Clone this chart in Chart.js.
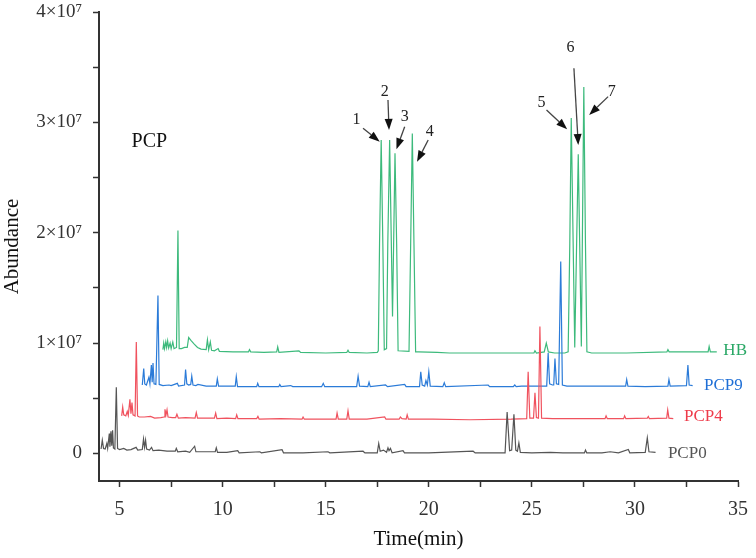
<!DOCTYPE html>
<html>
<head>
<meta charset="utf-8">
<title>PCP chromatogram</title>
<script src="https://cdn.jsdelivr.net/npm/chart.js@4.4.0/dist/chart.umd.min.js"></script>
<style>
  html, body { margin: 0; padding: 0; background: #fff; }
  #wrap { width: 756px; height: 558px; }
</style>
</head>
<body>
<div id="wrap"><canvas id="chromChart" width="756" height="558"></canvas></div>
<script>
const seriesNames = ['PCP0', 'PCP4', 'PCP9', 'HB'];

const pcp0Time  = [4.10,4.16,4.22,4.30,4.38,4.42,4.50,4.53,4.58,4.62,4.66,4.70,4.77,4.84,4.90,5.00,5.20,5.35,5.55,5.80,5.88,6.10,6.16,6.21,6.26,6.31,6.45,6.55,6.62,6.90,7.30,7.70,7.75,7.82,8.20,8.40,8.64,8.70,9.10,9.64,9.69,9.75,10.20,10.73,10.80,11.80,11.88,12.88,12.95,13.90,15.11,15.20,16.81,16.90,17.50,17.57,17.64,17.80,17.95,18.02,18.07,18.14,18.22,18.75,18.82,20.00,22.15,22.25,23.70,23.80,23.92,24.02,24.13,24.22,24.30,24.37,24.44,25.00,25.90,26.50,27.55,27.60,27.66,28.40,28.80,29.20,29.68,29.75,30.50,30.60,30.68,31.00];
const pcp0Abund = [0.40,1.20,0.45,0.40,0.90,0.45,1.80,0.60,2.00,0.70,2.10,0.50,0.40,6.00,0.45,0.35,0.45,0.30,0.35,0.55,0.30,0.35,1.30,0.55,1.20,0.40,0.30,0.55,0.25,0.30,0.20,0.20,0.45,0.15,0.20,0.10,0.65,0.15,0.15,0.15,0.50,0.10,0.10,0.25,0.05,0.15,0.05,0.35,0.05,0.05,0.15,0.05,0.20,0.05,0.05,0.90,0.20,0.30,0.10,0.50,0.25,0.45,0.05,0.25,0.05,0.05,0.20,0.05,0.05,3.75,0.25,0.30,3.55,0.30,0.20,0.95,0.10,0.05,0.10,0.05,0.05,0.30,0.05,0.05,0.15,0.05,0.35,0.05,0.10,1.40,0.15,0.10];

const pcp4Time  = [5.10,5.15,5.20,5.30,5.37,5.42,5.50,5.55,5.60,5.65,5.75,5.81,5.87,5.95,6.20,6.50,6.70,7.00,7.16,7.20,7.25,7.30,7.35,7.55,7.72,7.78,7.85,8.20,8.66,8.72,8.78,9.20,9.60,9.66,9.72,10.20,10.63,10.68,10.74,11.65,11.71,11.77,12.80,13.85,13.90,13.96,15.00,15.50,15.55,15.61,16.02,16.08,16.14,17.00,17.86,17.92,18.56,18.62,18.70,18.90,18.95,19.01,20.20,22.00,24.00,24.75,24.82,24.90,25.08,25.15,25.22,25.32,25.39,25.47,26.00,27.50,28.55,28.60,28.66,29.45,29.50,29.56,30.60,30.65,30.70,31.54,31.59,31.65,31.86];
const pcp4Abund = [3.40,4.20,3.50,3.40,3.80,3.45,4.90,3.60,4.60,3.50,3.40,10.10,3.40,3.30,3.30,3.35,3.20,3.25,3.30,4.00,3.50,3.95,3.30,3.25,3.25,3.55,3.20,3.25,3.20,3.70,3.20,3.20,3.20,3.65,3.15,3.20,3.15,3.50,3.15,3.15,3.35,3.10,3.15,3.10,3.30,3.10,3.10,3.10,3.65,3.10,3.10,3.85,3.10,3.10,3.30,3.10,3.10,3.30,3.15,3.10,3.50,3.10,3.10,3.05,3.10,3.15,7.40,3.20,3.20,5.50,3.25,3.20,11.50,3.20,3.15,3.15,3.15,3.40,3.15,3.15,3.40,3.15,3.20,3.35,3.15,3.20,3.95,3.20,3.15];

const pcp9Time  = [6.10,6.17,6.22,6.30,6.42,6.47,6.54,6.58,6.62,6.67,6.76,6.86,6.92,7.10,7.40,7.50,7.80,7.86,8.15,8.20,8.26,8.35,8.45,8.50,8.56,8.70,8.80,9.20,9.69,9.74,9.80,10.20,10.61,10.66,10.72,11.65,11.70,11.76,12.72,12.77,12.83,13.30,13.40,14.80,14.88,14.95,16.50,16.57,16.64,17.04,17.10,17.16,17.90,18.00,18.83,18.90,19.55,19.61,19.68,19.80,19.86,19.93,20.00,20.07,20.68,20.75,20.82,22.88,22.95,24.10,24.17,24.24,24.50,25.72,25.79,25.86,26.00,26.06,26.12,26.19,26.30,26.40,26.48,26.70,28.00,29.55,29.60,29.66,30.50,31.60,31.65,31.71,32.50,32.57,32.63,32.80];
const pcp9Abund = [6.20,7.70,6.30,6.20,6.90,6.30,8.00,6.45,8.20,6.30,6.25,14.30,6.25,6.15,6.20,6.15,6.35,6.10,6.20,7.60,6.30,6.20,6.25,7.00,6.20,6.15,6.25,6.10,6.10,6.75,6.10,6.10,6.10,6.95,6.05,6.05,6.35,6.05,6.05,6.25,6.05,6.15,6.05,6.05,6.35,6.05,6.05,7.00,6.10,6.05,6.45,6.05,6.20,6.05,6.25,6.05,6.05,7.40,6.20,6.10,6.60,6.20,7.40,6.10,6.05,6.40,6.05,6.20,6.05,6.05,6.20,6.05,6.10,6.10,9.10,6.30,6.20,6.20,8.60,6.30,6.25,17.40,6.20,6.10,6.10,6.10,6.70,6.10,6.05,6.10,6.70,6.10,6.15,8.00,6.20,6.15];

const hbTime  = [7.10,7.14,7.18,7.24,7.28,7.33,7.38,7.45,7.50,7.58,7.64,7.76,7.83,7.89,8.00,8.15,8.28,8.35,8.48,8.62,8.78,8.95,9.20,9.26,9.32,9.40,9.46,9.60,9.78,9.84,10.50,11.25,11.30,11.36,12.00,12.62,12.67,12.73,13.70,13.78,15.00,16.02,16.08,16.14,17.00,17.50,17.55,17.61,17.69,17.77,17.84,17.95,18.01,18.10,18.24,18.36,18.44,18.51,19.04,19.12,19.20,19.28,19.36,19.50,20.40,21.00,22.80,24.00,25.10,25.15,25.22,25.60,25.70,25.80,26.10,26.60,26.76,26.84,26.91,27.08,27.25,27.40,27.52,27.60,27.67,27.90,29.60,31.55,31.60,31.66,33.55,33.60,33.66,33.97];
const hbAbund = [9.40,10.00,9.50,10.10,9.60,10.20,9.55,10.00,9.50,10.10,9.50,9.60,20.20,9.50,9.50,9.60,9.60,10.50,10.20,9.90,9.60,9.45,9.40,10.30,9.40,10.10,9.35,9.30,9.50,9.25,9.20,9.20,9.40,9.20,9.15,9.20,9.65,9.15,9.30,9.15,9.10,9.15,9.35,9.15,9.10,9.15,9.30,19.00,28.40,19.00,9.40,9.50,19.00,28.40,12.40,27.20,19.00,9.30,9.25,19.00,29.00,19.00,9.20,9.20,9.15,9.10,9.10,9.10,9.10,9.30,9.10,9.20,10.00,9.20,9.10,9.10,9.20,19.00,30.40,9.60,27.10,9.70,33.20,19.00,9.20,9.10,9.10,9.20,9.40,9.20,9.20,9.70,9.20,9.20];

// Marcas dos eixos
const xTicks = [5, 7.5, 10, 12.5, 15, 17.5, 20, 22.5, 25, 27.5, 30, 32.5, 35];
const yTicks = [0, 5, 10, 15, 20, 25, 30, 35, 40];

// Cores e posições das anotações (em coordenadas de dados)
const lineColors  = ['#555555', '#f0525e', '#2b7bd8', '#3dba7c'];
const labelColors = ['#555555', '#ee3b4a', '#1f6fd6', '#2aa866'];
const labelAt = [[31.60, 0.03], [32.38, 3.32], [33.35, 6.19], [34.29, 9.30]];
const peakTags = ['1', '2', '3', '4', '5', '6', '7'];
const tagAt  = [[16.49, 30.22], [17.86, 32.78], [18.83, 30.52], [20.05, 29.16], [25.47, 31.73], [26.88, 36.72], [28.88, 32.78]];
const tailAt = [[16.81, 29.47], [18.02, 32.03], [18.83, 29.61], [19.97, 28.40], [25.71, 31.12], [27.04, 34.90], [28.70, 32.33]];
const tipAt  = [[17.62, 28.25], [18.07, 29.31], [18.43, 27.56], [19.43, 26.44], [26.71, 29.37], [27.25, 27.95], [27.78, 30.67]];

const serif = '"Liberation Serif", "DejaVu Serif", serif';

const toPoints = (t, a) => t.map((x, i) => ({ x: x, y: a[i] }));
const allTimes = [pcp0Time, pcp4Time, pcp9Time, hbTime];
const allAbund = [pcp0Abund, pcp4Abund, pcp9Abund, hbAbund];

// Setas, números dos picos e rótulos das séries
const notesPlugin = {
  id: 'notes',
  afterDatasetsDraw(chart) {
    const { ctx, scales: { x, y } } = chart;
    const px = p => [x.getPixelForValue(p[0]), y.getPixelForValue(p[1])];
    ctx.save();

    // rótulos das séries
    ctx.font = '17px ' + serif;
    ctx.textAlign = 'left';
    ctx.textBaseline = 'middle';
    seriesNames.forEach((name, i) => {
      const [lx, ly] = px(labelAt[i]);
      ctx.fillStyle = labelColors[i];
      ctx.fillText(name, lx, ly);
    });

    // texto "PCP"
    ctx.fillStyle = '#111';
    ctx.font = '20px ' + serif;
    const [tx, ty] = px([5.58, 28.22]);
    ctx.fillText('PCP', tx, ty);

    // setas
    ctx.font = '16px ' + serif;
    ctx.textAlign = 'center';
    peakTags.forEach((tag, i) => {
      const [nx, ny] = px(tagAt[i]);
      const [ax, ay] = px(tailAt[i]);
      const [bx, by] = px(tipAt[i]);
      ctx.fillStyle = '#222';
      ctx.fillText(tag, nx, ny);

      const ang = Math.atan2(by - ay, bx - ax);
      const len = 11, half = 4;
      const hx = bx - len * Math.cos(ang), hy = by - len * Math.sin(ang);
      ctx.strokeStyle = '#444';
      ctx.lineWidth = 1.3;
      ctx.beginPath();
      ctx.moveTo(ax, ay);
      ctx.lineTo(hx, hy);
      ctx.stroke();
      ctx.fillStyle = '#111';
      ctx.beginPath();
      ctx.moveTo(bx, by);
      ctx.lineTo(hx + half * Math.sin(ang), hy - half * Math.cos(ang));
      ctx.lineTo(hx - half * Math.sin(ang), hy + half * Math.cos(ang));
      ctx.closePath();
      ctx.fill();
    });
    ctx.restore();
  }
};

new Chart(document.getElementById('chromChart'), {
  type: 'line',
  data: {
    datasets: seriesNames.map((name, i) => ({
      label: name,
      data: toPoints(allTimes[i], allAbund[i]),
      borderColor: lineColors[i],
      borderWidth: 1.2,
      pointRadius: 0,
      fill: false,
      tension: 0
    }))
  },
  options: {
    responsive: false,
    animation: false,
    layout: { padding: { top: 12, right: 18, left: 0, bottom: 0 } },
    plugins: { legend: { display: false }, tooltip: { enabled: false } },
    scales: {
      x: {
        type: 'linear',
        min: 4,
        max: 35,
        afterBuildTicks: s => { s.ticks = xTicks.map(v => ({ value: v })); },
        afterFit: s => { s.height = 77; s.paddingLeft = 0; s.paddingRight = 0; },
        ticks: {
          autoSkip: false,
          maxRotation: 0,
          padding: 11,
          color: '#333',
          font: { family: serif, size: 20 },
          callback: v => (v % 5 === 0 ? String(v) : '')
        },
        grid: { drawOnChartArea: false, tickLength: 6, tickColor: '#333', tickWidth: 1.5 },
        border: { display: true, color: '#333', width: 2 },
        title: {
          display: true,
          text: 'Time(min)',
          color: '#111',
          font: { family: serif, size: 21 },
          padding: { top: 0, bottom: 6 }
        }
      },
      y: {
        min: -2.5,
        max: 40,
        afterBuildTicks: s => { s.ticks = yTicks.map(v => ({ value: v })); },
        afterFit: s => { s.width = 99; s.paddingTop = 0; s.paddingBottom = 0; },
        ticks: {
          autoSkip: false,
          padding: 11,
          color: '#333',
          font: { family: serif, size: 19 },
          callback: v => (v % 10 !== 0 ? '' : (v === 0 ? '0' : (v / 10) + '×10⁷'))
        },
        grid: { drawOnChartArea: false, tickLength: 6, tickColor: '#333', tickWidth: 1.5 },
        border: { display: true, color: '#333', width: 2 },
        title: {
          display: true,
          text: 'Abundance',
          color: '#111',
          font: { family: serif, size: 21 },
          padding: { top: 0, bottom: 0 }
        }
      }
    }
  },
  plugins: [notesPlugin]
});
</script>
</body>
</html>
